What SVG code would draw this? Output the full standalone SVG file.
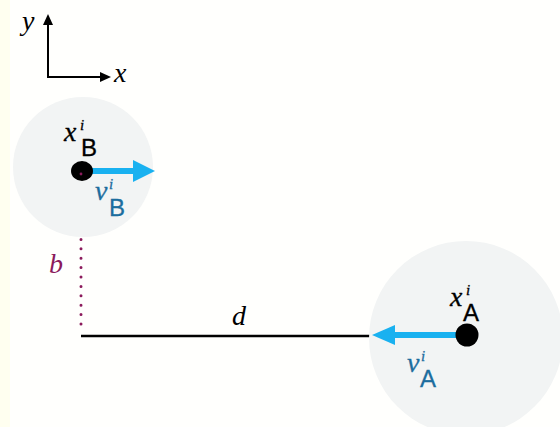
<svg xmlns="http://www.w3.org/2000/svg" width="560" height="427" viewBox="0 0 560 427">
<defs>
<style>
.m{font-family:"Liberation Serif","DejaVu Serif",serif;font-style:italic;font-size:28px;}
.lm{font-family:"Liberation Serif","DejaVu Serif",serif;font-style:italic;font-size:28px;stroke:#000;stroke-width:0.3px;}
.sup{font-family:"Liberation Serif","DejaVu Serif",serif;font-style:italic;font-size:15px;}
.s{font-family:"Liberation Sans","DejaVu Sans",sans-serif;font-style:normal;font-size:24px;stroke-width:0.3px;}
.blue{fill:#1c6d9e;stroke:#1c6d9e;}
.zone{fill:#f2f4f4;}
.dot{fill:#000;}
.vel{stroke:#19b1f0;stroke-width:6;fill:none;}
.head{fill:#19b1f0;}
</style>
</defs>
<rect width="560" height="427" fill="#fffffd"/>
<rect width="10" height="427" fill="#fffff0"/>
<g id="axes">
<polyline points="48,18 48,77 103,77" fill="none" stroke="#000" stroke-width="2"/>
<path d="M48,14 L43,25 L53,25 z" fill="#000"/>
<path d="M111,77 L100,72 L100,82 z" fill="#000"/>
<text class="m" x="22" y="30">y</text>
<text class="m" x="114" y="82">x</text>
</g>
<g id="connectors">
<line x1="81" y1="336" x2="375" y2="336" stroke="#000" stroke-width="2.5"/>
<line x1="81" y1="183" x2="81" y2="333" stroke="#8b1a5c" stroke-width="3" stroke-linecap="round" stroke-dasharray="0 9.4"/>
<text class="m" x="49" y="273" fill="#8b1a5c">b</text>
<text class="m" x="232" y="325">d</text>
</g>
<g id="nodeB">
<circle class="zone" cx="83" cy="167" r="70"/>
<line class="vel" x1="92" y1="171" x2="136" y2="171"/>
<path class="head" d="M155,171 L133,160 L133,182 z"/>
<ellipse class="dot" cx="82" cy="171" rx="11" ry="10"/>
<circle cx="81" cy="174" r="1.4" fill="#8b1a5c"/>
<text class="lm"><tspan x="64" y="141">x</tspan><tspan class="sup" x="80" y="130">i</tspan><tspan class="s" x="81" y="156">B</tspan></text>
<text class="lm blue"><tspan x="95" y="200">v</tspan><tspan class="sup" x="109" y="189">i</tspan><tspan class="s" x="109" y="216">B</tspan></text>
</g>
<g id="nodeA">
<circle class="zone" cx="466" cy="338" r="97"/>
<line class="vel" x1="458" y1="335" x2="392" y2="335"/>
<path class="head" d="M372,335 L395,325 L395,345 z"/>
<circle class="dot" cx="467" cy="335" r="11.5"/>
<text class="lm"><tspan x="450" y="306">x</tspan><tspan class="sup" x="466" y="295">i</tspan><tspan class="s" x="463" y="321">A</tspan></text>
<text class="lm blue"><tspan x="407" y="372">v</tspan><tspan class="sup" x="421" y="361">i</tspan><tspan class="s" x="420" y="387">A</tspan></text>
</g>
</svg>
